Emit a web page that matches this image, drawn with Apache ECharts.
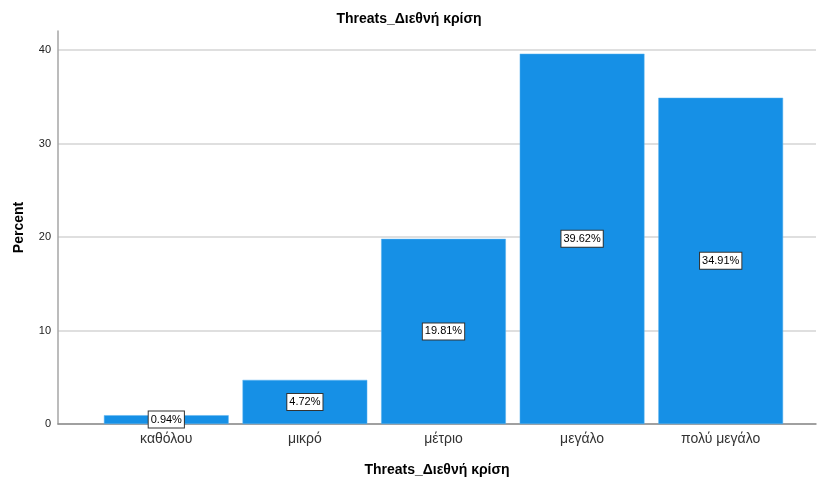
<!DOCTYPE html>
<html>
<head>
<meta charset="utf-8">
<script src="https://cdn.jsdelivr.net/npm/echarts@6/dist/echarts.min.js"></script>
<style>html,body{margin:0;padding:0;background:#fff}#c{width:818px;height:485px}</style>
</head>
<body>
<div id="c"></div>
<script>
const title = 'Threats_Διεθνή κρίση';
const categories = ['καθόλου', 'μικρό', 'μέτριο', 'μεγάλο', 'πολύ μεγάλο'];
const percents = [0.94, 4.72, 19.81, 39.62, 34.91];
const yTicks = [0, 10, 20, 30, 40];

const font = '"Liberation Sans", Arial, sans-serif';
const chart = echarts.init(document.getElementById('c'), null, {renderer: 'canvas'});
const yMax = 42.05;
chart.setOption({
  animation: false,
  backgroundColor: '#ffffff',
  title: {
    text: title, left: 'center', top: 7,
    textStyle: {fontFamily: font, fontSize: 14, fontWeight: 'bold', color: '#000'}
  },
  grid: [
    {left: 58, right: 2, top: 31, bottom: 61},
    {left: 97, right: 28, top: 31, bottom: 61}
  ],
  xAxis: [
    {gridIndex: 0, type: 'value', min: 0, max: 1,
     axisLine: {show: true, onZero: false, lineStyle: {color: '#8c8c8c', width: 1.5}},
     axisTick: {show: false}, axisLabel: {show: false}, splitLine: {show: false},
     name: title, nameLocation: 'middle', nameGap: 39,
     nameTextStyle: {fontFamily: font, fontSize: 14, fontWeight: 'bold', color: '#000'}},
    {gridIndex: 1, type: 'category', data: categories,
     axisLine: {show: false}, axisTick: {show: false},
     axisLabel: {fontFamily: font, fontSize: 14, color: '#333', margin: 8}}
  ],
  yAxis: [
    {gridIndex: 0, type: 'value', min: 0, max: yMax, interval: 10,
     axisLine: {show: true, lineStyle: {color: '#a6a6a6', width: 1.5}},
     axisTick: {show: false},
     axisLabel: {fontFamily: font, fontSize: 11, color: '#222', margin: 7,
       formatter: v => yTicks.includes(v) ? String(v) : ''},
     splitLine: {show: true, lineStyle: {color: ['#d4d4d4','#d4d4d4','#d4d4d4','#d4d4d4','#d4d4d4','rgba(0,0,0,0)'], width: 1.5}},
     name: 'Percent', nameLocation: 'middle', nameGap: 32,
     nameTextStyle: {fontFamily: font, fontSize: 14, fontWeight: 'bold', color: '#000'}},
    {gridIndex: 1, type: 'value', min: 0, max: yMax, show: false}
  ],
  series: [{
    type: 'bar', xAxisIndex: 1, yAxisIndex: 1,
    data: percents, barCategoryGap: '10%',
    itemStyle: {color: '#1690e6', borderColor: '#5cb4f0', borderWidth: 0.5},
    label: {
      show: true, position: 'inside',
      formatter: p => p.value.toFixed(2) + '%',
      fontFamily: font, fontSize: 11, color: '#000',
      backgroundColor: '#fff', borderColor: '#333', borderWidth: 1,
      padding: [3, 2, 2, 2]
    }
  }]
});
</script>
</body>
</html>
